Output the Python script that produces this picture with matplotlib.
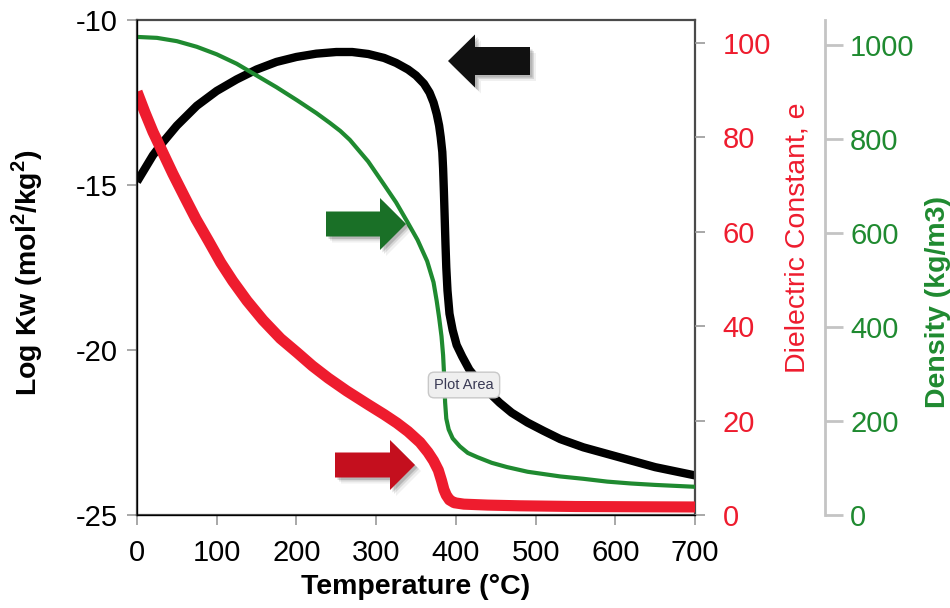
import matplotlib
matplotlib.use("Agg")
import matplotlib.pyplot as plt
from matplotlib.patches import Polygon

# Log Kw (black, left axis)
temp_kw = [0, 10, 20, 32, 50, 75, 100, 125, 150, 175, 200, 225, 250, 270,
           290, 310, 325, 340, 350, 360, 367, 372, 376, 379, 381, 383, 384,
           385, 386, 387, 388, 389.5, 392, 396, 401, 408, 417, 427, 440, 455,
           470, 490, 510, 531, 560, 590, 620, 650, 680, 700]
log_kw = [-14.9, -14.5, -14.1, -13.72, -13.2, -12.6, -12.15, -11.8, -11.5,
          -11.27, -11.12, -11.02, -10.97, -10.97, -11.03, -11.15, -11.3, -11.5,
          -11.68, -11.93, -12.2, -12.5, -12.85, -13.2, -13.55, -14.0, -14.5,
          -15.2, -16.0, -16.8, -17.5, -18.2, -18.9, -19.4, -19.85, -20.2,
          -20.6, -20.9, -21.25, -21.6, -21.9, -22.2, -22.45, -22.7, -22.95,
          -23.15, -23.35, -23.55, -23.7, -23.8]

# Dielectric constant (red)
temp_eps = [0, 10, 20, 31, 45, 60, 74, 90, 105, 120, 138, 158, 180, 201, 220,
            240, 263, 290, 310, 326, 340, 355, 365, 372, 378, 382, 385, 388,
            392, 398, 410, 440, 480, 550, 620, 700]
dielectric = [89.7, 85.3, 81.2, 77.3, 72.3, 67.3, 62.7, 58, 53.5, 49.6, 45.4,
              41.3, 37.4, 34.4, 31.6, 29.0, 26.3, 23.4, 21.3, 19.5, 17.7, 15.4,
              13.3, 11.5, 9.5, 7.3, 5.4, 4.2, 3.2, 2.6, 2.3, 2.1, 1.95, 1.8,
              1.75, 1.7]

# Density (green)
temp_rho = [0, 25, 50, 75, 100, 125, 150, 175, 201, 225, 242, 255, 267, 290,
            309, 325, 339, 352, 364, 372, 376, 379, 382, 384, 385.5, 386.5,
            388, 391, 396, 405, 415, 427, 445, 464, 490, 531, 560, 590, 620,
            650, 700]
density = [1017, 1015, 1008, 996, 980, 960, 935, 910, 882, 855, 834, 817, 798,
           752, 705, 665, 624, 585, 540, 495, 455, 420, 380, 340, 290, 240,
           205, 182, 163, 146, 132, 123, 111, 102, 92, 82, 77, 71, 67, 64, 60]

kw_ticks = [-25, -20, -15, -10]
eps_ticks = [0, 20, 40, 60, 80, 100]
rho_ticks = [0, 200, 400, 600, 800, 1000]
t_ticks = [0, 100, 200, 300, 400, 500, 600, 700]

RED = "#ee1c2e"
GREEN = "#1f8a30"
FRAME = "#4a4a4a"
TICK = "#999999"

plt.rcParams["font.family"] = ["Liberation Sans", "DejaVu Sans"]
plt.rcParams["axes.unicode_minus"] = False
plt.rcParams["mathtext.fontset"] = "custom"
plt.rcParams["mathtext.rm"] = "Liberation Sans"
plt.rcParams["mathtext.bf"] = "Liberation Sans:bold"

W, H = 950, 608
fig = plt.figure(figsize=(W / 100, H / 100), dpi=100)
ax = fig.add_axes([137 / W, 1 - 515 / H, 558 / W, 495 / H])

ax.plot(temp_kw, log_kw, color="black", lw=6, solid_capstyle="butt",
        solid_joinstyle="round")
ax.set_xlim(0, 700)
ax.set_ylim(-25, -10)
ax.set_xticks(t_ticks)
ax.set_yticks(kw_ticks)
ax.tick_params(axis="both", direction="out", length=7, width=1.2,
               color=TICK, labelsize=21)
ax.tick_params(axis="x", pad=10)
ax.tick_params(axis="y", pad=7)
for s in ax.spines.values():
    s.set_color(FRAME)
    s.set_linewidth(1.6)
ax.set_xlabel("Temperature (°C)", fontsize=20.5, fontweight="bold", labelpad=5)
ax.set_ylabel(r"Log Kw (mol$^{\mathbf{2}}$/kg$^{\mathbf{2}}$)", fontsize=20.5,
              fontweight="bold")
ax.yaxis.set_label_coords(-0.165, 0.49)

# dielectric constant axis
ax2 = ax.twinx()
ax2.plot(temp_eps, dielectric, color=RED, lw=8, solid_capstyle="butt",
         solid_joinstyle="round")
ax2.set_ylim(0, 104.9)
ax2.set_yticks(eps_ticks)
ax2.spines["right"].set_visible(False)
ax2.spines["top"].set_visible(False)
ax2.tick_params(axis="y", direction="out", length=7, width=1.2, color=TICK,
                labelcolor=RED, labelsize=21, pad=13)
ax2.set_ylabel("Dielectric Constant, e", color=RED, fontsize=20.5)
ax2.yaxis.set_label_coords(1.161, 0.56)

# density axis
ax3 = ax.twinx()
ax3.plot(temp_rho, density, color=GREEN, lw=3, solid_joinstyle="round")
ax3.set_ylim(0, 1053)
ax3.set_yticks(rho_ticks)
ax3.spines["right"].set_position(("axes", 1.233))
ax3.spines["right"].set_color("#c4c4c4")
ax3.spines["right"].set_linewidth(2)
ax3.spines["top"].set_visible(False)
ax3.tick_params(axis="y", direction="out", length=13, width=2,
                color="#c4c4c4", labelcolor=GREEN, labelsize=21, pad=5)
ax3.set_ylabel("Density (kg/m3)", color=GREEN, fontsize=20.5, fontweight="bold")
ax3.yaxis.set_label_coords(1.412, 0.43)


def block_arrow(tip, pointing, body_len, body_h, head_len, head_h, color):
    # build the outline in pixels, then put it on the figure
    tx, ty = tip
    d = -1 if pointing == "right" else 1
    pts = [(tx, ty),
           (tx + d * head_len, ty - head_h / 2),
           (tx + d * head_len, ty - body_h / 2),
           (tx + d * (head_len + body_len), ty - body_h / 2),
           (tx + d * (head_len + body_len), ty + body_h / 2),
           (tx + d * head_len, ty + body_h / 2),
           (tx + d * head_len, ty + head_h / 2)]
    for off, a in [(6, 0.06), (4, 0.1), (2.5, 0.15)]:
        shadow = [((x + off) / W, 1 - (y + off) / H) for x, y in pts]
        fig.patches.append(Polygon(shadow, closed=True, fc="black", ec="none",
                                   alpha=a, transform=fig.transFigure))
    frac = [(x / W, 1 - y / H) for x, y in pts]
    fig.patches.append(Polygon(frac, closed=True, fc=color, ec="none",
                               transform=fig.transFigure, zorder=5))


block_arrow((448, 61), "left", 55, 28, 27, 53, "#111111")
block_arrow((406, 224), "right", 54, 25, 26, 52, "#1a7027")
block_arrow((415, 465), "right", 55, 25, 25, 50, "#c40f1e")

fig.text(464 / W, 1 - 385 / H, "Plot Area", ha="center", va="center",
         fontsize=10.5, color="#3a3a55",
         bbox=dict(boxstyle="round,pad=0.4", fc="#efefef", ec="#c8c8c8"))

fig.savefig("out.png", dpi=100)
